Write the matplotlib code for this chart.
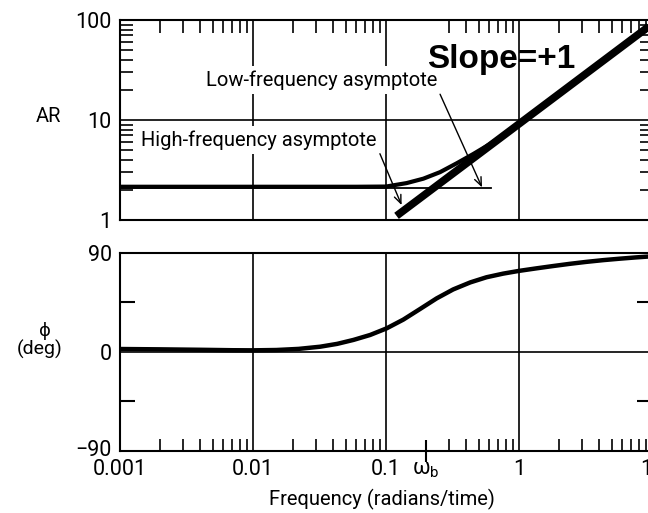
import matplotlib.pyplot as plt
from matplotlib.ticker import LogLocator, NullFormatter, FixedLocator
from matplotlib.transforms import ScaledTranslation

plt.rcParams['font.family'] = ['Roboto', 'DejaVu Sans']

# amplitude ratio curve
freq_ar = [0.001, 0.003, 0.01, 0.03, 0.06, 0.1, 0.143, 0.191, 0.255, 0.34,
           0.453, 0.605, 0.8, 1.0, 2.0, 5.0, 10.0]
ar_vals = [2.15, 2.15, 2.15, 2.15, 2.15, 2.16, 2.34, 2.59, 3.01, 3.69,
           4.57, 5.75, 7.4, 9.2, 18.3, 45.5, 91.0]

# asymptotes
low_asym_freq = [0.001, 0.62]
low_asym_ar = [2.08, 2.08]
slope_freq = [0.12, 10.0]
slope_ar = [1.1, 91.0]

# phase angle curve
freq_phase = [0.001, 0.002, 0.004, 0.007, 0.01, 0.015, 0.022, 0.032, 0.043,
              0.057, 0.076, 0.101, 0.135, 0.18, 0.24, 0.32, 0.43, 0.57, 0.76,
              1.0, 1.35, 1.8, 2.4, 3.2, 4.3, 5.7, 7.6, 10.0]
phase_deg = [2.5, 2.2, 1.8, 1.4, 1.3, 1.6, 2.6, 4.6, 7.2, 10.8, 15.3, 21.3,
             29.3, 38.9, 48.6, 56.8, 63.2, 67.9, 71.2, 73.7, 76.0, 78.1, 80.1,
             81.9, 83.5, 84.8, 86.0, 87.0]

omega_b = 0.2
x_ticks = [0.001, 0.01, 0.1, omega_b, 1, 10]
x_labels = ['0.001', '0.01', '0.1', r'ω$_\mathregular{b}$', '1', '10']
grid_freqs = [0.01, 0.1, 1]

W, H = 648, 513
fig = plt.figure(figsize=(W / 100, H / 100), dpi=100)
ax1 = fig.add_axes([120 / W, 1 - 220 / H, 532 / W, 200 / H])
ax2 = fig.add_axes([120 / W, 1 - 450.5 / H, 532 / W, 197.5 / H])

for ax in (ax1, ax2):
    ax.set_xscale('log')
    ax.set_xlim(0.001, 10)
    for s in ax.spines.values():
        s.set_linewidth(1.5)
    for f in grid_freqs:
        ax.axvline(f, color='black', lw=1.2, zorder=1)
    ax.xaxis.set_minor_locator(LogLocator(base=10, subs=range(2, 10)))
    ax.xaxis.set_minor_formatter(NullFormatter())

# ---- amplitude ratio ----
ax1.set_yscale('log')
ax1.set_ylim(1, 100)
ax1.axhline(10, color='black', lw=1.2, zorder=1)
ax1.set_yticks([1, 10, 100], ['1', '10', '100'])
ax1.yaxis.set_minor_locator(LogLocator(base=10, subs=range(2, 10)))
ax1.yaxis.set_minor_formatter(NullFormatter())
ax1.set_xticks(x_ticks)
ax1.tick_params(which='both', direction='in', bottom=False, top=True,
                left=True, right=True, labelbottom=False)
ax1.tick_params(which='major', length=0, labelsize=15.5, pad=6)
ax1.tick_params(which='minor', length=9, width=1.2)

ax1.plot(low_asym_freq, low_asym_ar, color='black', lw=1.3, zorder=3)
ax1.plot(freq_ar, ar_vals, color='black', lw=3.0, zorder=3)
ax1.plot(slope_freq, slope_ar, color='black', lw=5.5, zorder=4,
         solid_capstyle='butt', clip_on=False)

ax1.text(0.379, 0.67, 'Low-frequency asymptote', transform=ax1.transAxes,
         ha='center', va='baseline', fontsize=14.5, zorder=2,
         bbox=dict(fc='white', ec='none', pad=3))
ax1.text(0.261, 0.37, 'High-frequency asymptote', transform=ax1.transAxes,
         ha='center', va='baseline', fontsize=14.5, zorder=2,
         bbox=dict(fc='white', ec='none', pad=3))
ax1.text(0.577, 0.758, 'Slope=+1', transform=ax1.transAxes, ha='left',
         va='baseline', fontsize=24, fontweight='bold',
         family='Liberation Sans', zorder=5)

arrow = dict(arrowstyle='->,head_length=0.6,head_width=0.25', lw=1.0,
             color='black', shrinkA=0, shrinkB=0)
ax1.annotate('', xy=(0.527, 2.12), xytext=(0.255, 18.1), arrowprops=arrow)
ax1.annotate('', xy=(0.131, 1.41), xytext=(0.090, 4.6), arrowprops=arrow)

# ---- phase angle ----
ax2.set_ylim(-90, 90)
ax2.axhline(0, color='black', lw=1.2, zorder=1)
ax2.set_yticks([-90, 0, 90], ['\u221290', '0', '90'])
ax2.yaxis.set_minor_locator(FixedLocator([-45, 45]))
ax2.set_xticks(x_ticks, x_labels)
ax2.tick_params(which='both', direction='in', bottom=True, top=False,
                left=True, right=True)
ax2.tick_params(which='major', length=0, labelsize=15.5, pad=6)
ax2.tick_params(axis='x', which='minor', length=9, width=1.2)
ax2.tick_params(axis='y', which='minor', length=11, width=1.5)

# omega_b tick crosses the axis line
wb_tick = ax2.xaxis.get_major_ticks()[3]
wb_tick.tick1line.set_marker('|')
wb_tick.tick1line.set_markersize(16)
wb_tick.tick1line.set_markeredgewidth(1.5)

# lift the -90 label a little off the 0.001 label
low_lbl = ax2.yaxis.get_major_ticks()[0].label1
low_lbl.set_transform(low_lbl.get_transform()
                      + ScaledTranslation(0, 3 / 100, fig.dpi_scale_trans))

ax2.plot(freq_phase, phase_deg, color='black', lw=3.2, zorder=3)

# axis titles
fig.text(48 / W, 1 - 116 / H, 'AR', ha='center', va='center', fontsize=14.5)
fig.text(45 / W, 1 - 331 / H, '\u03d5', ha='center', va='center', fontsize=13)
fig.text(40 / W, 1 - 349 / H, '(deg)', ha='center', va='center', fontsize=14)
fig.text(382 / W, 1 - 499 / H, 'Frequency (radians/time)', ha='center',
         va='center', fontsize=14.5)

fig.savefig('out.png', dpi=100)
